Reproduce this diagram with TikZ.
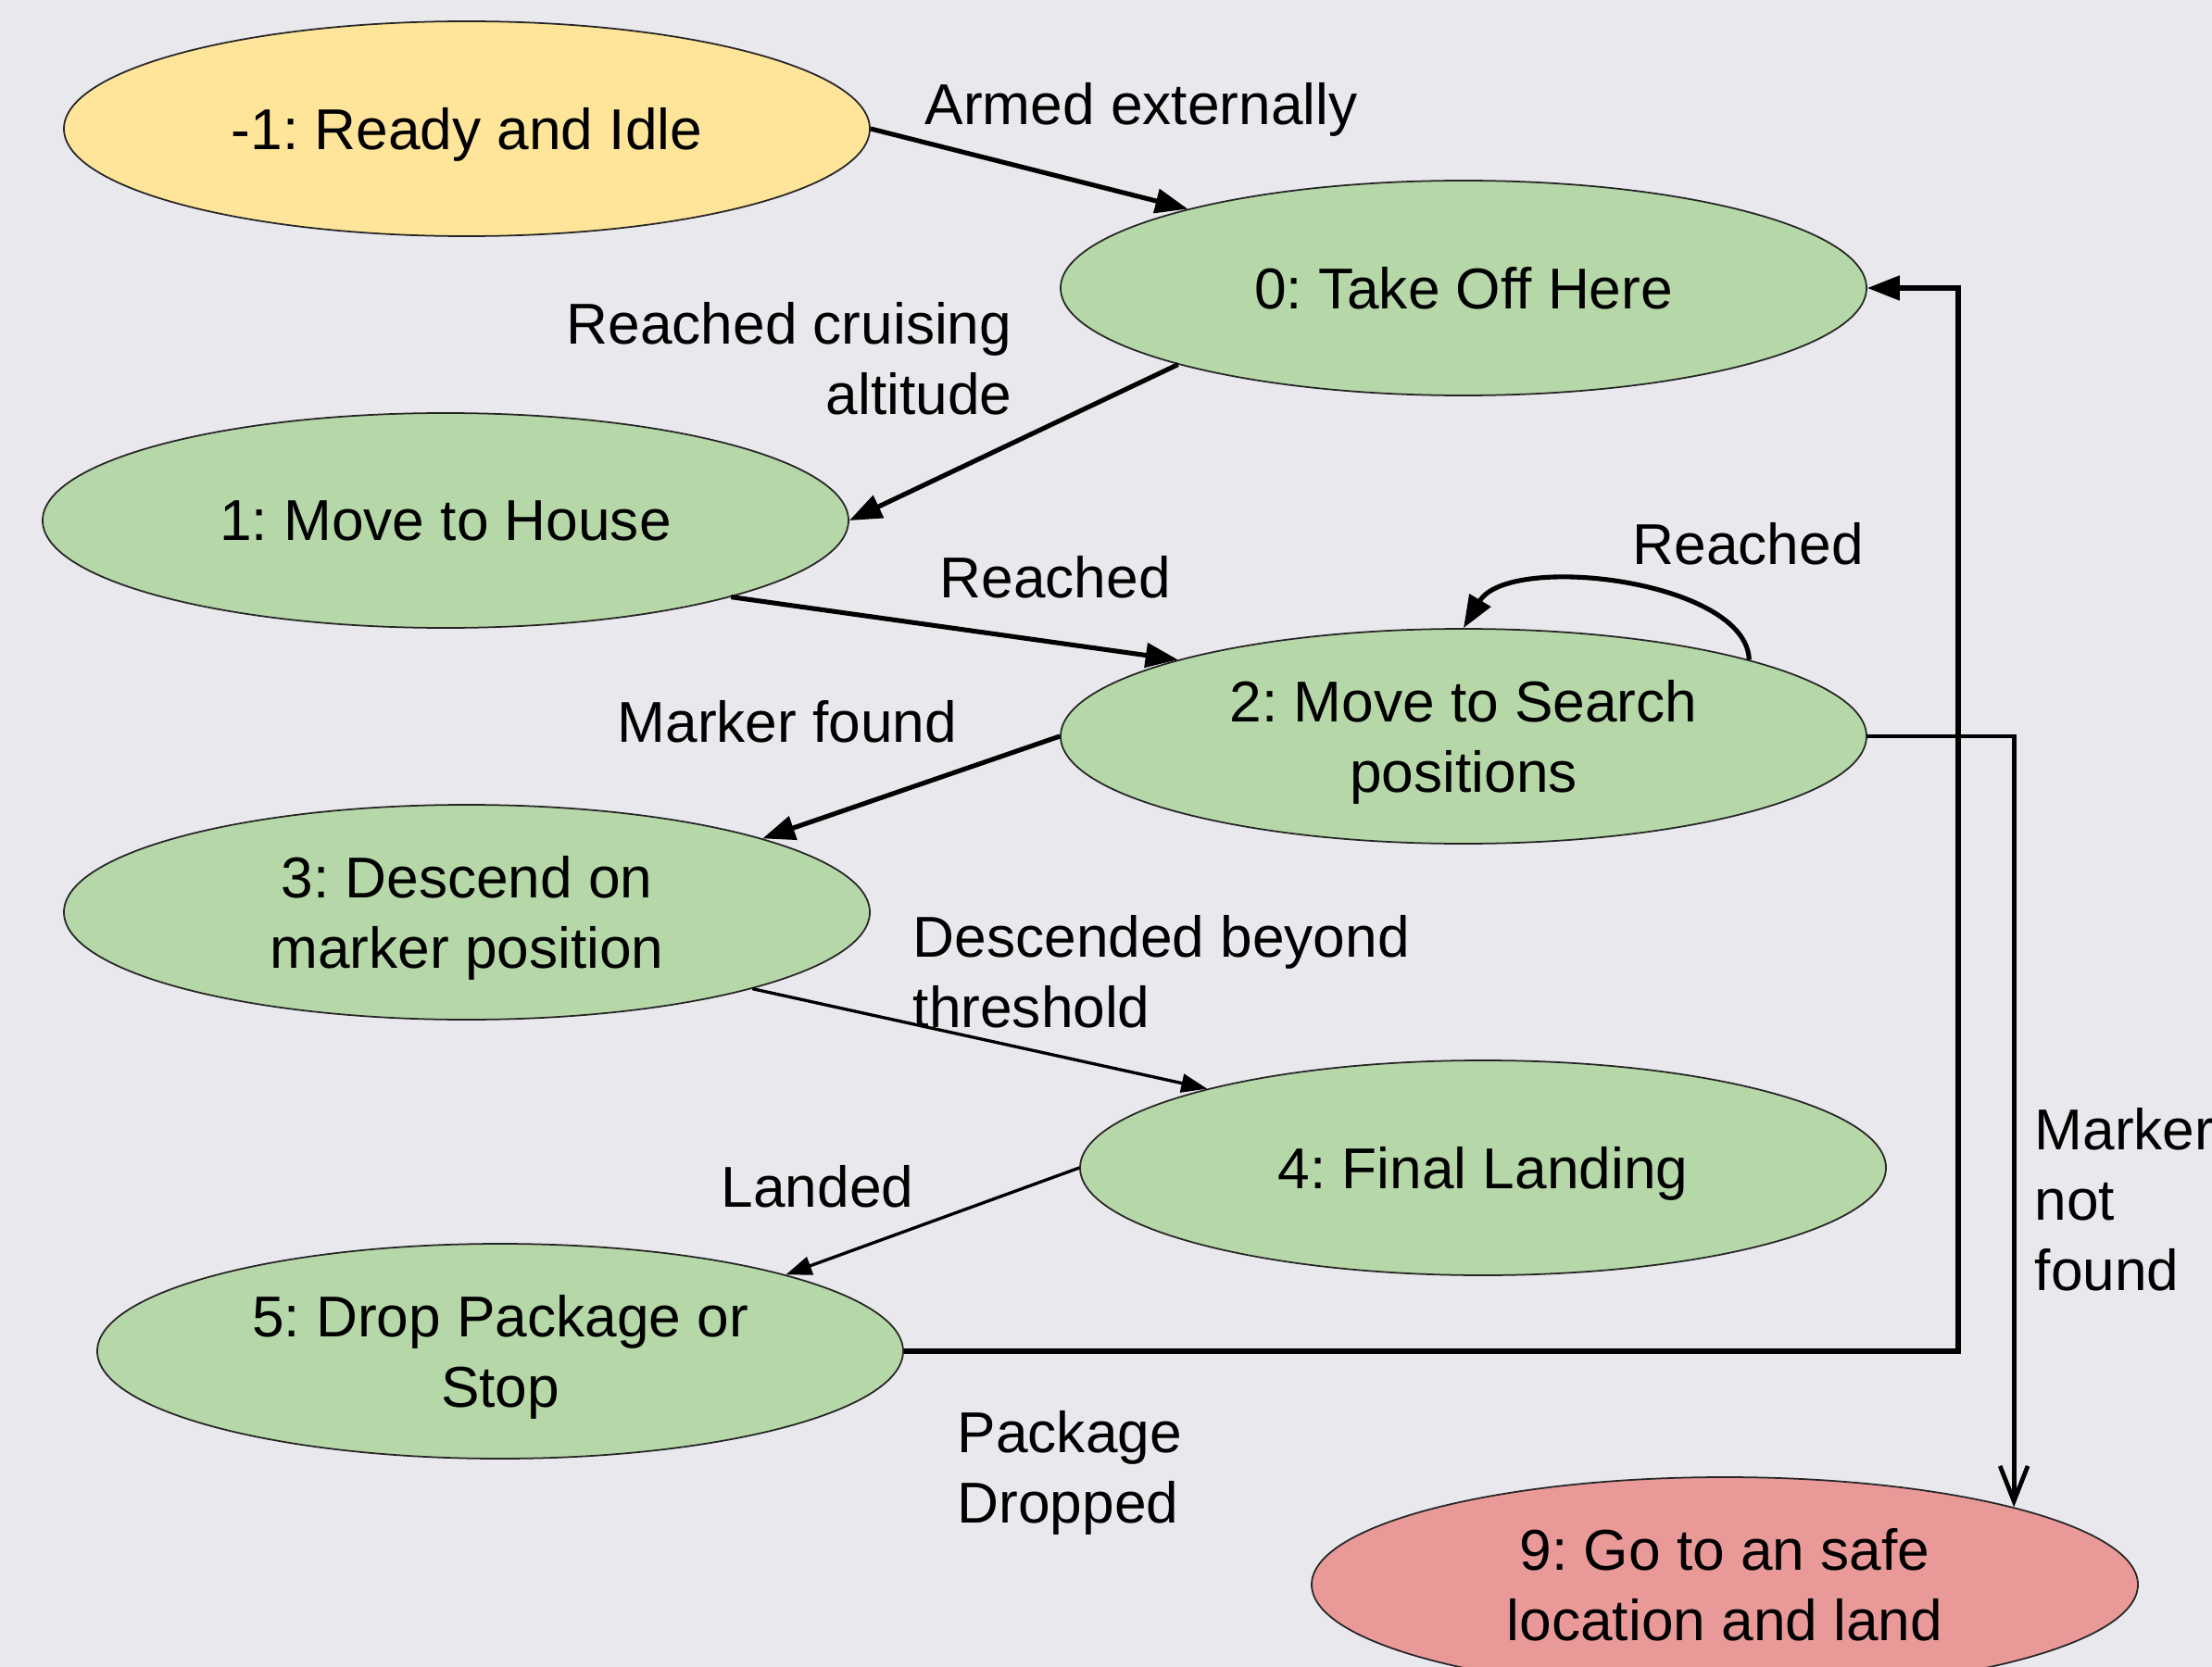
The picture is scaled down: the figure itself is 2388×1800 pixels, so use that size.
\documentclass[tikz,border=0pt]{standalone}
\usepackage{fontspec}
\setmainfont{Liberation Sans}
\usetikzlibrary{shapes.geometric,arrows.meta}

\definecolor{bgcol}{HTML}{E8E8ED}
\definecolor{idlecol}{HTML}{FFE599}
\definecolor{stepcol}{HTML}{B6D7A8}
\definecolor{failcol}{HTML}{EA9999}

\newcommand{\diagfont}{\frenchspacing\fontsize{17.7pt}{21.6pt}\selectfont}

\tikzset{
  state/.style={ellipse, draw=black!85, line width=0.5pt, fill=stepcol,
    minimum width=87mm, minimum height=23.2mm, inner sep=0pt,
    text depth=0pt, align=center, font=\diagfont},
  lbl/.style={inner sep=0pt, font=\diagfont},
  bold arrow/.style={line width=1.45pt, -{Triangle[length=3.5mm,width=2.6mm]}},
  thin arrow/.style={line width=0.95pt, -{Triangle[length=2.8mm,width=2.0mm]}},
  open arrow/.style={line width=1.35pt, -{Straight Barb[length=3.8mm,width=3mm]}},
}

\begin{document}
\begin{tikzpicture}[x=0.1mm, y=-0.1mm]
  \useasboundingbox (0,0) rectangle (2388,1800);
  \clip (0,0) rectangle (2388,1800);
  \fill[bgcol] (0,0) rectangle (2388,1800);

  % states
  \node[state, fill=idlecol] (idle)    at (504,139)  {-1: Ready and Idle};
  \node[state]               (takeoff) at (1580,311) {0: Take Off Here};
  \node[state]               (house)   at (481,562)  {1: Move to House};
  \node[state]               (search)  at (1580,795) {2: Move to Search\\positions};
  \node[state]               (descend) at (504,985)  {3: Descend on\\marker position};
  \node[state]               (final)   at (1601,1261) {4: Final Landing};
  \node[state]               (drop)    at (540,1459) {5: Drop Package or\\Stop};
  \node[state, fill=failcol, minimum width=89.2mm] (safe) at (1862,1711)
       {9: Go to an safe\\location and land};

  % transition labels (multi-line labels are placed by their last baseline)
  \node[lbl, anchor=base west] (l-armed) at (998,135) {Armed externally};
  \node[lbl, anchor=base east, align=right] (l-cruise) at (1093,447)
       {Reached cruising\\altitude};
  \node[lbl, anchor=base west] (l-reached) at (1014,645) {Reached};
  \node[lbl, anchor=base west] (l-loop) at (1762,609) {Reached};
  \node[lbl, anchor=base west] (l-found) at (666,801) {Marker found};
  \node[lbl, anchor=base west, align=left] (l-desc) at (985,1109)
       {Descended beyond\\threshold};
  \node[lbl, anchor=base west] (l-landed) at (778,1303) {Landed};
  \node[lbl, anchor=base west, align=left] (l-dropped) at (1033,1644)
       {Package\\Dropped};
  \node[lbl, anchor=base west, align=left] (l-notfound) at (2196,1393)
       {Marker\\not\\found};

  % routing column of the return line
  \coordinate (back) at (2114,0);

  % transitions
  \draw[bold arrow] (idle.east) -- (takeoff.164.5);
  \draw[bold arrow] (takeoff.-165) -- (house.east);
  \draw[bold arrow] (house.-15) -- (search.165);
  \draw[bold arrow] (search.15) .. controls +(-3,-86) and +(49,-82) .. (search.north);
  \draw[bold arrow] (search.west) -- (descend.14.8);
  \draw[thin arrow] (descend.-15) -- (final.164.8);
  \draw[thin arrow] (final.west) -- (drop.15.3);
  \draw[bold arrow] (drop.east) -| (back |- takeoff.east) -- (takeoff.east);
  \draw[open arrow] (search.east) -| (safe.15);
\end{tikzpicture}
\end{document}
